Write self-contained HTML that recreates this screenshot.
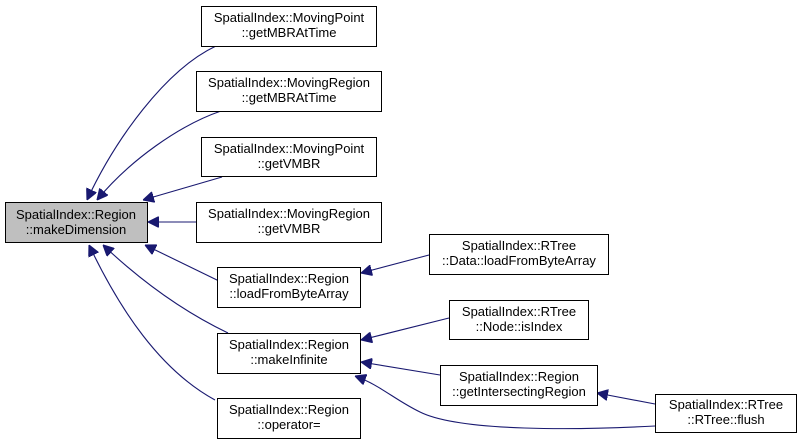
<!DOCTYPE html>
<html><head><meta charset="utf-8"><style>
html,body{margin:0;padding:0;background:#fff;width:800px;height:444px;overflow:hidden}
svg text{font-family:"Liberation Sans",sans-serif;font-size:13px;fill:#000;text-anchor:middle}
</style></head><body>
<svg width="800" height="444" viewBox="0 0 800 444" xmlns="http://www.w3.org/2000/svg">
<defs>
<marker id="a" viewBox="0 0 10 10" refX="10" refY="5" markerWidth="11" markerHeight="11" markerUnits="userSpaceOnUse" orient="auto">
<path d="M0,0 L10,5 L0,10 z" fill="#191970" stroke="#191970"/>
</marker>
</defs>
<g fill="none" stroke="#191970" stroke-width="1.1" marker-end="url(#a)">
<path d="M216,46 C165,70 115,140 87,200"/>
<path d="M221,111 C180,125 130,160 97,200"/>
<path d="M222,177 L143,200"/>
<path d="M196,222 L148,222"/>
<path d="M219,281 L145,245"/>
<path d="M228,333 C180,310 140,280 103,245"/>
<path d="M215,400 C160,370 120,310 89,245"/>
<path d="M429,255 L361,273"/>
<path d="M449,318 L361,340"/>
<path d="M440,375 L361,362"/>
<path d="M655,426 C580,430 460,432 420,412 C395,400 380,385 355,376"/>
<path d="M655,404 L597,393"/>
</g>
<g stroke="#000" stroke-width="1" fill="#fff">
<rect x="5.5" y="202.5" width="142" height="40" fill="#bfbfbf"/>
<rect x="201.5" y="6.5" width="175" height="40"/>
<rect x="196.5" y="71.5" width="185" height="40"/>
<rect x="201.5" y="137.5" width="175" height="39"/>
<rect x="196.5" y="202.5" width="185" height="40"/>
<rect x="217.5" y="267.5" width="143" height="40"/>
<rect x="217.5" y="333.5" width="143" height="40"/>
<rect x="217.5" y="398.5" width="143" height="40"/>
<rect x="429.5" y="234.5" width="179" height="40"/>
<rect x="449.5" y="300.5" width="139" height="39"/>
<rect x="440.5" y="365.5" width="157" height="40"/>
<rect x="655.5" y="394.5" width="141" height="38"/>
</g>
<text x="76" y="219">SpatialIndex::Region</text><text x="76" y="234">::makeDimension</text>
<text x="289" y="22">SpatialIndex::MovingPoint</text><text x="289" y="37">::getMBRAtTime</text>
<text x="289" y="87">SpatialIndex::MovingRegion</text><text x="289" y="102">::getMBRAtTime</text>
<text x="289" y="153">SpatialIndex::MovingPoint</text><text x="289" y="168">::getVMBR</text>
<text x="289" y="218">SpatialIndex::MovingRegion</text><text x="289" y="233">::getVMBR</text>
<text x="289" y="283">SpatialIndex::Region</text><text x="289" y="298">::loadFromByteArray</text>
<text x="289" y="349">SpatialIndex::Region</text><text x="289" y="364">::makeInfinite</text>
<text x="289" y="414">SpatialIndex::Region</text><text x="289" y="429">::operator=</text>
<text x="519" y="250">SpatialIndex::RTree</text><text x="519" y="265">::Data::loadFromByteArray</text>
<text x="519" y="316">SpatialIndex::RTree</text><text x="519" y="331">::Node::isIndex</text>
<text x="519" y="381">SpatialIndex::Region</text><text x="519" y="396">::getIntersectingRegion</text>
<text x="726" y="409">SpatialIndex::RTree</text><text x="726" y="424">::RTree::flush</text>
</svg>
</body></html>
